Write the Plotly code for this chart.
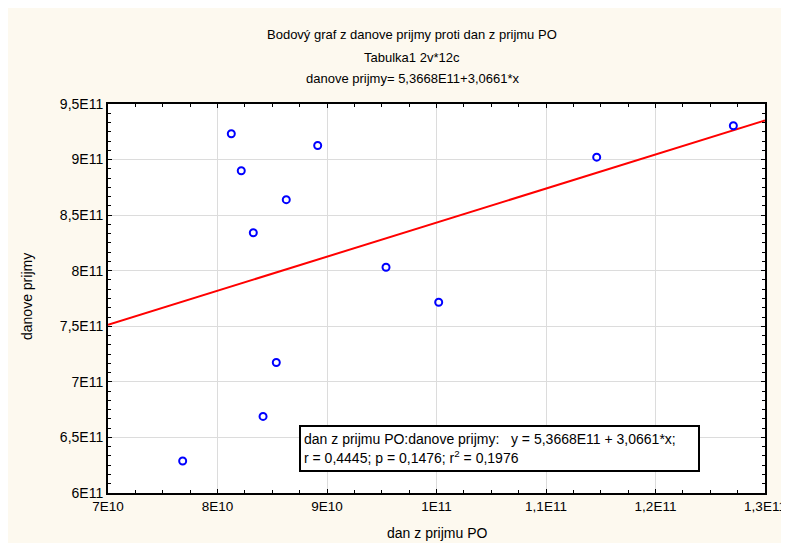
import plotly.graph_objects as go

# ---- data ----
dan_z_prijmu_po = [8.126e10, 8.915e10, 8.217e10, 8.628e10, 8.327e10, 9.539e10,
                   8.537e10, 8.416e10, 7.682e10, 1.0020e11, 1.1463e11, 1.2711e11]
danove_prijmy = [9.232e11, 9.127e11, 8.899e11, 8.639e11, 8.342e11, 8.031e11,
                 7.174e11, 6.689e11, 6.288e11, 7.716e11, 9.022e11, 9.304e11]
intercept = 5.3668e11
slope = 3.0661

x_tickvals = [7e10, 8e10, 9e10, 1e11, 1.1e11, 1.2e11, 1.3e11]
x_ticktext = ["7E10", "8E10", "9E10", "1E11", "1,1E11", "1,2E11", "1,3E11"]
y_tickvals = [6e11, 6.5e11, 7e11, 7.5e11, 8e11, 8.5e11, 9e11, 9.5e11]
y_ticktext = ["6E11", "6,5E11", "7E11", "7,5E11", "8E11", "8,5E11", "9E11", "9,5E11"]

title_lines = ["Bodový graf z danove prijmy proti dan z prijmu PO",
               "Tabulka1 2v*12c",
               "danove prijmy= 5,3668E11+3,0661*x"]
legend_text = ("dan z prijmu PO:danove prijmy:   y = 5,3668E11 + 3,0661*x;<br>"
               "r = 0,4445; p = 0,1476; r<sup>2</sup> = 0,1976")
x_title = "dan z prijmu PO"
y_title = "danove prijmy"

x_range = [7e10, 1.3e11]
y_range = [6e11, 9.5e11]

# ---- layout geometry (page body has an 8px margin on each side) ----
OFF = 8
W, H = 789 - OFF, 551 - 2 * OFF
PLOT_L, PLOT_T, PLOT_R, PLOT_B = 108, 104, 765, 493   # page pixels
ML, MT = PLOT_L - OFF, PLOT_T - OFF
PW, PH = PLOT_R - PLOT_L, PLOT_B - PLOT_T
MR, MB = W - ML - PW, H - MT - PH

def px_x(p):
    return (p - PLOT_L) / PW

def px_y(p):
    return (PLOT_B - p) / PH

FONT = "Liberation Sans, Arial, sans-serif"
CREAM = "#fdf9ef"

fig = go.Figure()

line_x = list(x_range)
line_y = [intercept + slope * v for v in line_x]
fig.add_trace(go.Scatter(x=line_x, y=line_y, mode="lines",
                         line=dict(color="#ff0000", width=2), hoverinfo="skip",
                         showlegend=False))
fig.add_trace(go.Scatter(x=dan_z_prijmu_po, y=danove_prijmy, mode="markers",
                         marker=dict(symbol="circle-open", size=7, color="#0000ff",
                                     line=dict(width=2, color="#0000ff")),
                         showlegend=False))

axis_common = dict(showline=True, linecolor="black", linewidth=2, mirror="allticks",
                   ticks="inside", ticklen=4, tickcolor="black", tickwidth=1,
                   showgrid=True, gridcolor="#dcdcdc", gridwidth=1, zeroline=False,
                   automargin=False)

fig.update_xaxes(range=x_range, tickmode="array", tickvals=x_tickvals, ticktext=x_ticktext,
                 tickfont=dict(family=FONT, size=13.5, color="black"),
                 minor=dict(tickmode="linear", tick0=7e10, dtick=0.25e10, ticks="inside",
                            ticklen=3, tickcolor="black", showgrid=False),
                 **axis_common)
fig.update_yaxes(range=y_range, tickmode="array", tickvals=y_tickvals, ticktext=y_ticktext,
                 tickfont=dict(family=FONT, size=14, color="black"),
                 minor=dict(tickmode="linear", tick0=6e11, dtick=0.5e11 / 6, ticks="inside",
                            ticklen=3, tickcolor="black", showgrid=False),
                 **axis_common)

annotations = []
for txt, ypx in zip(title_lines, [35, 57, 79]):
    annotations.append(dict(text=txt, xref="paper", yref="paper", x=px_x(412), y=px_y(ypx),
                            xanchor="center", yanchor="middle", showarrow=False,
                            font=dict(family=FONT, size=13, color="black")))
annotations.append(dict(text=x_title, xref="paper", yref="paper", x=px_x(437), y=px_y(533),
                        xanchor="center", yanchor="middle", showarrow=False,
                        font=dict(family=FONT, size=14, color="black")))
annotations.append(dict(text=y_title, xref="paper", yref="paper", x=px_x(27), y=px_y(297),
                        xanchor="center", yanchor="middle", showarrow=False, textangle=-90,
                        font=dict(family=FONT, size=14, color="black")))
annotations.append(dict(text=legend_text, xref="paper", yref="paper",
                        x=px_x(299), y=px_y(425), xanchor="left", yanchor="top",
                        align="left", showarrow=False, bgcolor="white",
                        width=391, height=37,
                        bordercolor="black", borderwidth=2, borderpad=3,
                        font=dict(family=FONT, size=14, color="black")))

fig.update_layout(width=W, height=H, margin=dict(l=ML, r=MR, t=MT, b=MB),
                  paper_bgcolor=CREAM, plot_bgcolor="white",
                  annotations=annotations, showlegend=False,
                  font=dict(family=FONT, color="black"))

fig.write_html("out.html")
